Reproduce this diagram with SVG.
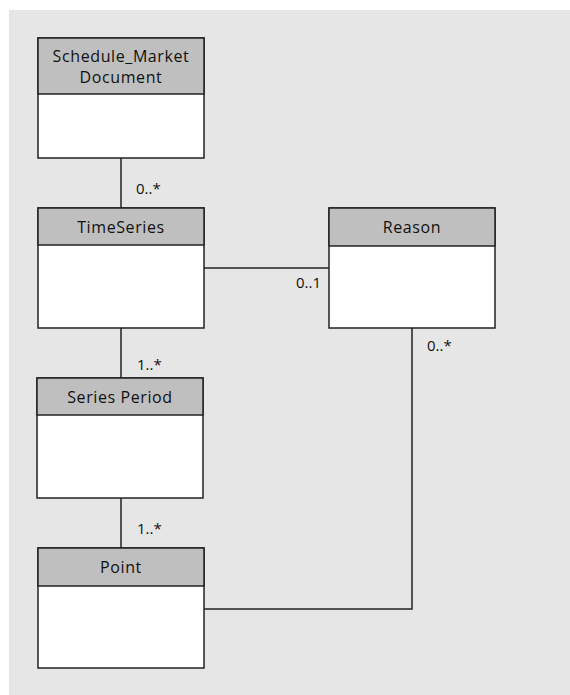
<svg xmlns="http://www.w3.org/2000/svg" width="570" height="695" viewBox="0 0 570 695">
<style>
.hd{fill:#bfbfbf;stroke:#222;stroke-width:1.5}
.bd{fill:#fff;stroke:#222;stroke-width:1.5}
.t{font-family:"Open Sans","Noto Sans",sans-serif;font-size:16px;letter-spacing:0.6px;fill:#111;text-anchor:middle}
.m{font-family:"Open Sans","Noto Sans",sans-serif;font-size:15px;fill:#111}
.c{fill:none;stroke:#222;stroke-width:1.5}
</style>
<rect x="9" y="10" width="561" height="685" fill="#e6e6e6"/>
<g id="connectors">
<line class="c" x1="121" y1="158" x2="121" y2="208"/>
<line class="c" x1="204" y1="268" x2="329" y2="268"/>
<line class="c" x1="121" y1="328" x2="121" y2="378"/>
<line class="c" x1="121" y1="498" x2="121" y2="548"/>
<polyline class="c" points="412,328 412,609 204,609"/>
<text class="m" x="136" y="194">0..*</text>
<text class="m" x="296" y="288">0..1</text>
<text class="m" x="427" y="351">0..*</text>
<text class="m" x="137" y="370">1..*</text>
<text class="m" x="137" y="534">1..*</text>
</g>
<g id="schedule">
<rect class="bd" x="38" y="38" width="166" height="120"/>
<rect class="hd" x="38" y="38" width="166" height="56"/>
<text class="t" x="121" y="62">Schedule_Market</text>
<text class="t" x="121" y="83">Document</text>
</g>
<g id="timeseries">
<rect class="bd" x="38" y="208" width="166" height="120"/>
<rect class="hd" x="38" y="208" width="166" height="37"/>
<text class="t" x="121" y="233">TimeSeries</text>
</g>
<g id="reason">
<rect class="bd" x="329" y="208" width="166" height="120"/>
<rect class="hd" x="329" y="208" width="166" height="38"/>
<text class="t" x="412" y="233">Reason</text>
</g>
<g id="seriesperiod">
<rect class="bd" x="37" y="378" width="166" height="120"/>
<rect class="hd" x="37" y="378" width="166" height="37"/>
<text class="t" x="120" y="403">Series Period</text>
</g>
<g id="point">
<rect class="bd" x="38" y="548" width="166" height="120"/>
<rect class="hd" x="38" y="548" width="166" height="38"/>
<text class="t" x="121" y="573">Point</text>
</g>
</svg>
